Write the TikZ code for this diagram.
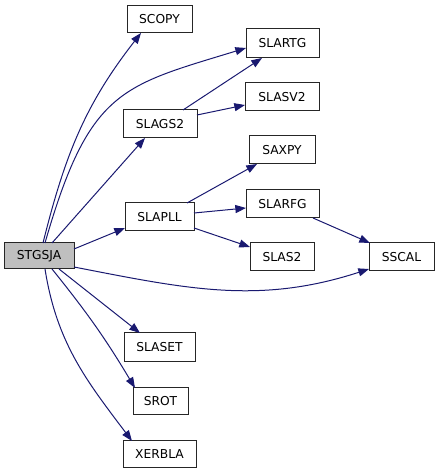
\documentclass[tikz,border=0pt]{standalone}
\usepackage{fontspec}
\setmainfont{DejaVu Sans}
\usetikzlibrary{arrows.meta,calc}
\definecolor{edgecol}{HTML}{191970}
\definecolor{rootfill}{HTML}{BFBFBF}
\tikzset{
  fn/.style={draw=black!85, line width=0.75pt, fill=white, rectangle, inner sep=0pt,
    font=\fontsize{9.2pt}{11pt}\selectfont},
  root/.style={fn, fill=rootfill},
  call/.style={draw=edgecol, line width=0.75pt, -{Triangle[length=8pt,width=6pt]}, fill=none},
}
\begin{document}
\begin{tikzpicture}[x=0.75pt,y=0.75pt]
\useasboundingbox (0,0) rectangle (440,475);
\node[root, minimum width=52.5pt, minimum height=19.5pt] (STGSJA) at (39,219) {STGSJA};
\node[fn, minimum width=48.75pt, minimum height=20.25pt] (SCOPY) at (159.5,455.5) {SCOPY};
\node[fn, minimum width=54.75pt, minimum height=21.75pt] (SLARTG) at (282.5,431.5) {SLARTG};
\node[fn, minimum width=55.5pt, minimum height=21pt] (SLASV2) at (282,378) {SLASV2};
\node[fn, minimum width=55.5pt, minimum height=21pt] (SLAGS2) at (160,351) {SLAGS2};
\node[fn, minimum width=49.5pt, minimum height=21pt] (SAXPY) at (282,325) {SAXPY};
\node[fn, minimum width=54.75pt, minimum height=21pt] (SLARFG) at (282.5,271) {SLARFG};
\node[fn, minimum width=51.75pt, minimum height=21pt] (SLAPLL) at (159.5,258) {SLAPLL};
\node[fn, minimum width=48pt, minimum height=21pt] (SLAS2) at (282,218) {SLAS2};
\node[fn, minimum width=48.75pt, minimum height=21pt] (SSCAL) at (401.5,218) {SSCAL};
\node[fn, minimum width=53.25pt, minimum height=21.75pt] (SLASET) at (159.5,127.5) {SLASET};
\node[fn, minimum width=41.25pt, minimum height=20.25pt] (SROT) at (160.5,73.5) {SROT};
\node[fn, minimum width=54.75pt, minimum height=20.25pt] (XERBLA) at (159.5,20.5) {XERBLA};

\draw[call] ($(STGSJA.center)+(4,13)$) to[out=76,in=232] ($(SCOPY.center)+(-18.5,-13.5)$);
\draw[call] ($(STGSJA.center)+(6,13)$) .. controls +(74:160) and +(197:130) .. ($(SLARTG.center)+(-36.5,-4.5)$);
\draw[call] ($(STGSJA.center)+(13,13)$) -- ($(SLAGS2.center)+(-15,-14)$);
\draw[call] ($(STGSJA.center)+(35,7)$) -- ($(SLAPLL.center)+(-34.5,-11)$);
\draw[call] ($(STGSJA.center)+(35,-11)$) to[out=-11,in=198] ($(SSCAL.center)+(-32.5,-12)$);
\draw[call] ($(STGSJA.center)+(20,-13)$) -- ($(SLASET.center)+(-19.5,14.5)$);
\draw[call] ($(STGSJA.center)+(13,-13)$) to[bend left=4] ($(SROT.center)+(-25.5,13.5)$);
\draw[call] ($(STGSJA.center)+(6,-13)$) to[out=-81,in=127] ($(XERBLA.center)+(-27.5,13.5)$);

\draw[call] ($(SLAGS2.center)+(23,14)$) -- ($(SLARTG.center)+(-20.5,-14.5)$);
\draw[call] ($(SLAGS2.center)+(37,9)$) -- ($(SLASV2.center)+(-37,-8)$);
\draw[call] ($(SLAPLL.center)+(27.5,14)$) -- ($(SAXPY.center)+(-25,-14)$);
\draw[call] ($(SLAPLL.center)+(34.5,4)$) -- ($(SLARFG.center)+(-36.5,-4)$);
\draw[call] ($(SLAPLL.center)+(34.5,-11)$) -- ($(SLAS2.center)+(-32,10)$);
\draw[call] ($(SLARFG.center)+(30.5,-14)$) -- ($(SSCAL.center)+(-31.5,14)$);
\end{tikzpicture}
\end{document}
